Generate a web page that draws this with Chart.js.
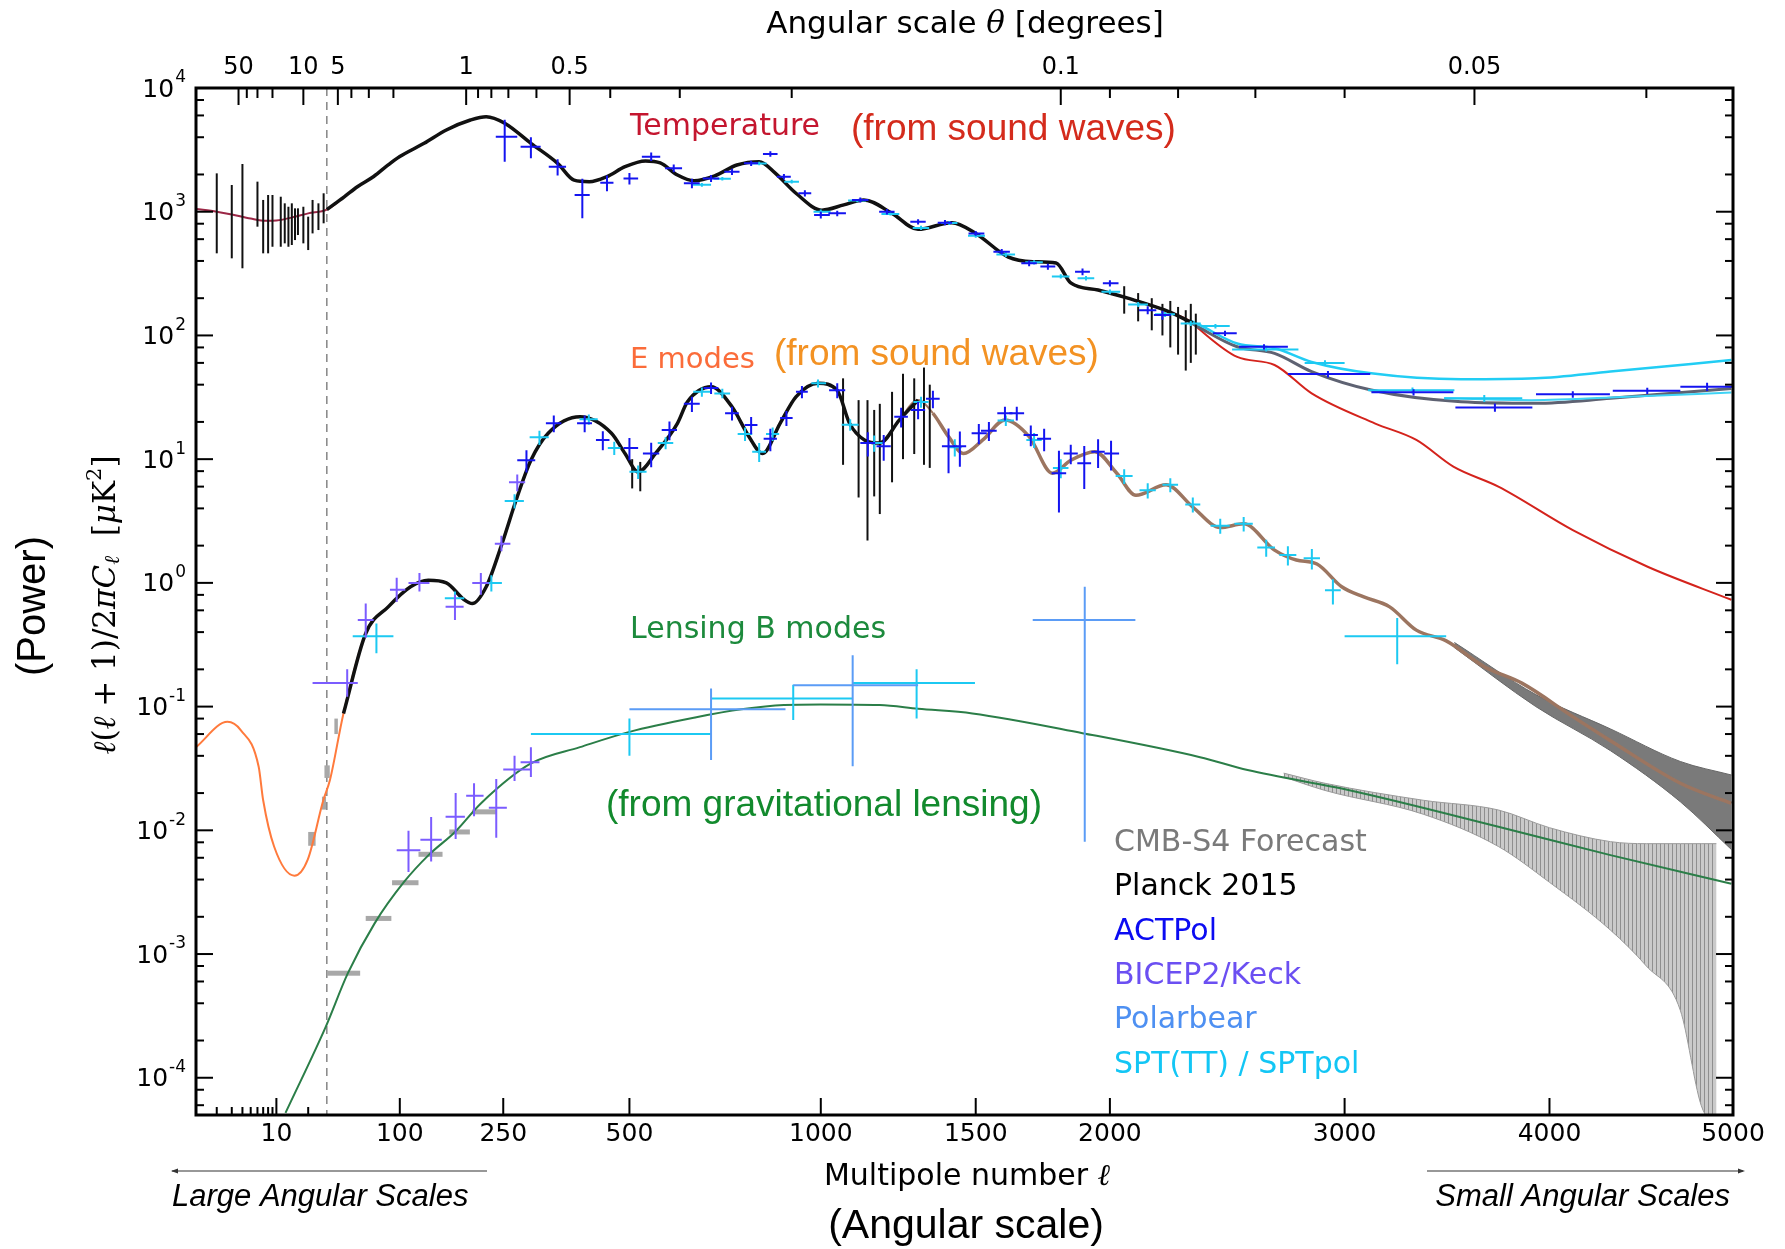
<!DOCTYPE html>
<html lang="en">
<head>
<meta charset="UTF-8">
<title>CMB power spectra</title>
<script src="https://cdn.jsdelivr.net/npm/chart.js"></script>
<style>
  html, body { margin: 0; padding: 0; background: #fff; }
  canvas { display: block; }
</style>
</head>
<body>
<canvas id="cmb" width="1785" height="1249"></canvas>
<script>
// ---- values: [ell, D_ell (uK^2)] ----
const ttTheory = [[1.17,1052],[2,1000],[3,950],[5,880],[7.6,845],[10,850],[15,910],[20,970],[30,1040],[40,1320],[50,1600],[65,1925],[83,2400],[100,2790],[124,3570],[151,4580],[187,5510],[215,5860],[252,5190],[291,3570],[337,2460],[369,1800],[401,1750],[442,1925],[488,2310],[530,2570],[559,2480],[595,1980],[632,1780],[681,1950],[738,2385],[800,2540],[848,2050],[914,1410],[1003,1030],[1062,1135],[1119,1245],[1205,970],[1290,720],[1409,815],[1500,668],[1607,432],[1695,395],[1782,385],[1839,266],[1950,233],[2063,200],[2200,160],[2308,126],[2337,111],[2492,67],[2658,57.7],[2834,34],[3132,19.4],[3318,14.3],[3495,8.7],[3723,6.0],[4115,2.67],[4507,1.35],[4990,0.73]];
const eeTheory = [[1.17,0.047],[2.67,0.0753],[3.82,0.0645],[6.2,0.0326],[7.0,0.0175],[9.4,0.0074],[14.8,0.0043],[19.8,0.0058],[27.8,0.0175],[31.6,0.0255],[39.5,0.088],[57,0.39],[82.6,0.64],[110,0.93],[128.7,1.05],[151,1.0],[177,0.73],[190,0.68],[215,0.93],[245,1.96],[270,4.97],[291,9.8],[320,16.2],[381,22],[453,16.2],[488,11.1],[516,7.9],[550,11.2],[595,19.5],[617,29.1],[672,38.5],[725,26.5],[771,15.2],[810,11.1],[863,19.5],[914,31.9],[991,41],[1044,36],[1078,19.5],[1121,14.3],[1167,13.5],[1228,20.7],[1290,30.1],[1341,23.5],[1397,15.2],[1453,11.1],[1523,14.3],[1597,20.7],[1682,15.2],[1768,7.7],[1839,9.8],[1936,11.5],[2024,7.7],[2092,5.1],[2204,6.2],[2308,4.1],[2420,2.8],[2520,3.0],[2658,1.84],[2760,1.53],[2860,1.42],[2985,0.93],[3082,0.77],[3196,0.64],[3318,0.415],[3460,0.34],[3650,0.21],[3850,0.154],[4115,0.083],[4308,0.053],[4690,0.024],[4990,0.0165]];
const bbTheory = [[12.2,5.2e-5],[29.3,2.58e-4],[42.4,6.97e-4],[66,1.77e-3],[104,3.84e-3],[129,6.3e-3],[163,9.7e-3],[205,0.0165],[291,0.0347],[381,0.047],[500,0.0625],[637,0.082],[750,0.095],[875,0.103],[1000,0.104],[1167,0.103],[1290,0.096],[1487,0.088],[1886,0.061],[2337,0.039],[2537,0.0307],[3020,0.0211],[3723,0.0107],[4308,0.0063],[4990,0.0037]];
const s4TTline = [[2300,127],[2337,115],[2492,81],[2658,71.6],[2834,51],[3114,36.2],[3533,29.1],[3924,28.3],[4308,31],[4990,37.3]];
const sptTTline = [[2300,131],[2337,121],[2492,86],[2658,78.7],[2834,61],[3114,49.4],[3533,44.2],[3924,45],[4308,51],[4990,63.2]];
const sptTTlow = [[3450,31],[3900,30],[4400,32],[4990,34.5]];

// CMB-S4 forecast bands: [ell, upper, lower]
const s4EEband = [[3500,0.33,0.30],[3924,0.125,0.10],[4308,0.066,0.044],[4690,0.036,0.017],[4990,0.028,0.007]];
const s4BBband = [[2700,0.029,0.027],[2900,0.024,0.021],[3350,0.0175,0.0135],[3723,0.0146,0.0074],[4000,0.0105,0.0038],[4308,0.0081,0.00156],[4500,0.0078,0.0008],[4690,0.0078,0.00035],[4810,0.0078,0.00006],[4900,0.0078,0.00004]];
// CMB-S4 forecast bins at low ell
const s4BBbins = [[30,52,7.0e-4],[57,87,1.94e-3],[88,118,3.77e-3],[118,146,6.4e-3],[155,186,9.7e-3],[190,235,0.0141]];   // [ell lo, ell hi, D]
const s4EEbins = [[20,23.5,0.0075,0.0097],[27,29.5,0.0147,0.0187],[28.5,31.5,0.0265,0.0335],[34,36,0.060,0.080]]; // [ell lo, ell hi, D lo, D hi]

// Planck 2015 error bars: [ell, D lo, D hi]
const planckLowTT = [[2,461,2042],[3,420,1644],[4,349,2431],[6,757,1750],[7,461,1245],[8,461,1365],[9,521,1365],[11,521,1322],[12,555,1169],[13,521,1097],[14,538,1169],[15,590,1065],[16,648,1065],[18,555,1097],[20,490,912],[22,668,1245],[25,711,1169],[28,806,1409]];
const planckHighTT = [[2050,150,250],[2100,130,220],[2150,110,200],[2190,100,180],[2220,80,190],[2250,70,170],[2280,52,160],[2300,60,180],[2320,70,150]];
const planckNoisyEE = [[505,5.8,10],[520,5.5,9.5],[1060,9,45],[1104,4.9,30],[1130,2.2,30],[1150,5,25],[1167,3.6,28],[1205,6.5,35],[1240,10,49],[1277,11,45],[1310,9,55],[1330,8.5,40]];

// crosses: [ell, D, +-ell, +-D]
const actTT = [[252,4040,18,1500],[291,3350,16,650],[337,2310,16,350],[386,1365,16,480],[442,1715,16,250],[500,1860,16,200],[541,2785,18,220],[587,2245,18,160],[627,1697,18,150],[672,1860,20,120],[725,2100,20,120],[777,2460,20,120],[833,2926,22,150],[875,1920,22,100],[944,1410,22,80],[1000,940,24,60],[1044,970,24,50],[1109,1245,24,60],[1189,1000,24,50],[1290,830,26,40],[1384,816,26,40],[1500,668,28,30],[1586,475,28,25],[1682,383,28,20],[1751,360,28,20],[1886,327,30,20],[2000,264,30,15],[2135,160,32,12],[2190,146,32,12],[2440,104,50,5],[2610,81,110,4],[2915,48.7,195,3],[3305,34.7,190,2],[3705,26.2,200,2],[4115,33.4,190,2],[4505,35.7,185,2],[4845,38.5,155,3]];
const actEE = [[284,9.8,14,2],[330,19.5,14,3],[391,19.5,16,3],[432,14.3,16,2.5],[500,12.3,16,2.5],[541,11.1,16,2.5],[578,17.2,16,3],[627,28,18,4],[672,37.6,18,4],[725,23.5,18,3],[777,18.9,18,3],[833,14.6,20,3],[883,21.5,20,3],[934,35,20,4],[1044,36,22,5],[1131,13.5,22,3],[1179,12.7,22,3],[1234,22,22,4],[1290,25,24,4],[1341,30.8,24,5],[1397,12.7,24,5],[1439,12.7,24,4],[1510,16.2,26,3],[1543,17,26,3],[1597,23.5,26,3],[1638,23.5,26,3],[1688,15.7,26,3],[1737,14.6,26,3],[1793,7.7,28,4],[1839,11.1,28,2],[1893,9.25,28,3.5],[1950,11.5,28,3],[2004,11.1,28,3]];
const sptTT = [[650,1650,22,60],[700,1850,22,60],[800,2450,22,80],[900,1750,24,60],[1000,1000,26,40],[1100,1230,26,40],[1200,960,28,30],[1300,740,28,30],[1400,810,30,30],[1500,640,30,25],[1600,450,32,20],[1700,390,32,15],[1800,300,34,12],[1900,290,34,12],[2000,225,36,10],[2100,178,36,8],[2200,148,38,7],[2300,125,40,6],[2400,119,60,5],[2620,77,150,3],[2900,60,100,3],[3300,36,200,2],[3650,31,200,2]];
const sptEE = [[68,0.37,22,0.1],[163,0.75,14,0.1],[225,1.0,22,0.15],[266,4.6,14,0.6],[305,15,16,2],[400,21,20,2],[460,12.3,16,1.5],[516,7.9,16,1],[570,13.5,16,1.5],[650,35,20,3],[700,34,20,3],[760,16,20,2],[800,11.5,20,2],[840,16,20,2],[990,41,24,3],[1080,19,24,2],[1150,13.5,26,2],[1300,29,26,3],[1420,12.5,26,2],[1600,20.5,28,2],[1700,14.3,28,2],[1800,8.5,30,1.5],[2050,7.3,30,1],[2135,5.6,30,0.8],[2220,6.2,30,0.8],[2308,4.3,30,0.6],[2420,2.9,40,0.4],[2520,3.0,40,0.4],[2620,1.93,40,0.3],[2720,1.68,40,0.3],[2835,1.58,40,0.3],[2940,0.87,40,0.2],[3230,0.37,230,0.15]];
// crosses with explicit ranges: [ell, D, ell lo, ell hi, D lo, D hi]
const bicepEE = [[42,0.155,22,50,0.12,0.2],[57,0.50,50,65,0.36,0.68],[95,0.88,85,105,0.7,1.1],[119,1.0,108,130,0.85,1.2],[163,0.64,150,176,0.5,0.8],[205,1.0,190,220,0.8,1.2],[246,2.07,232,260,1.8,2.4],[270,6.5,258,282,5.5,7.5]];
const bicepBB = [[108,6.9e-3,95,120,4.6e-3,9.9e-3],[132,8.4e-3,120,145,5.6e-3,0.0128],[164,0.0129,150,178,0.0085,0.02],[193,0.019,180,210,0.013,0.024],[235,0.0152,220,255,0.0087,0.026],[266,0.031,250,290,0.025,0.04],[291,0.0355,275,305,0.027,0.047]];
const polarbearBB = [[672,0.095,500,880,0.037,0.14],[1087,0.149,905,1290,0.033,0.26],[1895,0.5,1695,2090,0.0081,0.93]];
const sptBB = [[500,0.060,291,672,0.040,0.080],[905,0.116,672,1087,0.078,0.15],[1285,0.155,1087,1497,0.08,0.2]];

// axis ticks
const yExponents = [-4,-3,-2,-1,0,1,2,3,4];
const ellTicks = [10,100,250,500,1000,1500,2000,3000,4000,5000];
const ellMinor = [2,3,4,5,6,7,8,9,20];
const thetaTicks = [50,10,5,1,0.5,0.1,0.05];
const thetaMinor = [40,30,20,4,3,2,0.9,0.8,0.7,0.6,0.4,0.3,0.2,0.09,0.08,0.07,0.06,0.04];

// ---- multipole axis: log-like at low ell, stretched at high ell ----
const ELL_KNOTS = [[1.17,0],[2,0.0135],[10,0.0523],[30,0.0851],[100,0.1326],[250,0.1999],[500,0.2820],[1000,0.4065],[1500,0.5073],[2000,0.5946],[3000,0.7473],[4000,0.8806],[5000,1]];
function ellToUnit(v) {
  const k = ELL_KNOTS;
  let i = 0;
  while (i < k.length - 2 && v > k[i + 1][0]) i++;
  const a = k[i], b = k[i + 1];
  const t = (Math.log(v) - Math.log(a[0])) / (Math.log(b[0]) - Math.log(a[0]));
  return a[1] + t * (b[1] - a[1]);
}
function unitToEll(u) {
  const k = ELL_KNOTS;
  let i = 0;
  while (i < k.length - 2 && u > k[i + 1][1]) i++;
  const a = k[i], b = k[i + 1];
  const t = (u - a[1]) / (b[1] - a[1]);
  return Math.exp(Math.log(a[0]) + t * (Math.log(b[0]) - Math.log(a[0])));
}
class MultipoleScale extends Chart.LinearScale {
  getPixelForValue(v) {
    if (v === null || v === undefined || isNaN(v) || v <= 0) return NaN;
    const u0 = ellToUnit(this.min), u1 = ellToUnit(this.max);
    return this.getPixelForDecimal((ellToUnit(v) - u0) / (u1 - u0));
  }
  getValueForPixel(p) {
    const u0 = ellToUnit(this.min), u1 = ellToUnit(this.max);
    return unitToEll(u0 + this.getDecimalForPixel(p) * (u1 - u0));
  }
  buildTicks() {
    return ellTicks.map(v => ({ value: v }));
  }
}
MultipoleScale.id = 'multipole';
MultipoleScale.defaults = {};
Chart.register(MultipoleScale);

// ---- helpers ----
const canvas = document.getElementById('cmb');
const ctx0 = canvas.getContext('2d');

function xy(rows, col) { return rows.map(r => ({ x: r[0], y: r[col || 1] })); }
function sym(rows) { return rows.map(r => ({ x: r[0], y: r[1], xMin: r[0] - r[2], xMax: r[0] + r[2], yMin: r[1] - r[3], yMax: r[1] + r[3] })); }
function asym(rows) { return rows.map(r => ({ x: r[0], y: r[1], xMin: r[2], xMax: r[3], yMin: r[4], yMax: r[5] })); }
function vbars(rows) { return rows.map(r => ({ x: r[0], y: r[1], yMin: r[1], yMax: r[2] })); }
function hbars(rows) { return rows.map(r => ({ x: r[0], y: r[2], xMin: r[0], xMax: r[1] })); }
function boxes(rows) { return rows.map(r => ({ x: r[0], y: r[2], xMin: r[0], xMax: r[1], yMin: r[2], yMax: r[3] })); }

function hatch() {
  const c = document.createElement('canvas');
  c.width = 4; c.height = 4;
  const g = c.getContext('2d');
  g.fillStyle = '#cacaca'; g.fillRect(0, 0, 4, 4);
  g.fillStyle = '#8f8f8f'; g.fillRect(0, 0, 1, 4);
  return ctx0.createPattern(c, 'repeat');
}

function curve(data, color, width, order, extra) {
  return Object.assign({ data, borderColor: color, borderWidth: width, pointRadius: 0, fill: false,
    cubicInterpolationMode: 'monotone', order }, extra || {});
}
function marks(data, color, kind, width) {
  return { data, marks: kind, borderColor: color, backgroundColor: color, markWidth: width || 2,
    showLine: false, pointRadius: 0, pointHoverRadius: 0, order: 1 };
}

function drawMarks(chart, kinds) {
  const { ctx, chartArea: a, scales: { x, y } } = chart;
  ctx.save();
  ctx.beginPath(); ctx.rect(a.left, a.top, a.right - a.left, a.bottom - a.top); ctx.clip();
  chart.data.datasets.forEach(ds => {
    if (!kinds.includes(ds.marks)) return;
    ctx.strokeStyle = ds.borderColor; ctx.fillStyle = ds.backgroundColor; ctx.lineWidth = ds.markWidth;
    ds.data.forEach(p => {
      const xc = x.getPixelForValue(p.x), yc = y.getPixelForValue(p.y);
      if (ds.marks === 'box') {
        const x0 = x.getPixelForValue(p.xMin), x1 = x.getPixelForValue(p.xMax);
        const y0 = y.getPixelForValue(p.yMax), y1 = y.getPixelForValue(p.yMin);
        ctx.fillRect(x0, y0, x1 - x0, y1 - y0);
      } else if (ds.marks === 'hbar') {
        const x0 = x.getPixelForValue(p.xMin), x1 = x.getPixelForValue(p.xMax);
        ctx.fillRect(x0, yc - 2.5, x1 - x0, 5);
      } else {
        ctx.beginPath();
        if (ds.marks === 'cross') {
          ctx.moveTo(x.getPixelForValue(p.xMin), yc);
          ctx.lineTo(x.getPixelForValue(p.xMax), yc);
        }
        ctx.moveTo(xc, y.getPixelForValue(p.yMin));
        ctx.lineTo(xc, y.getPixelForValue(p.yMax));
        ctx.stroke();
      }
    });
  });
  ctx.restore();
}

function rich(ctx, parts, x, y, align) {
  let w = 0;
  parts.forEach(p => { ctx.font = p[1]; w += ctx.measureText(p[0]).width; });
  let cx = align === 'center' ? x - w / 2 : align === 'right' ? x - w : x;
  ctx.textAlign = 'left';
  ctx.textBaseline = 'middle';
  parts.forEach(p => {
    ctx.font = p[1];
    ctx.fillText(p[0], cx, y + (p[2] || 0));
    cx += ctx.measureText(p[0]).width;
  });
}
function text(ctx, s, x, y, font, color, align) {
  ctx.font = font; ctx.fillStyle = color;
  ctx.textAlign = align || 'left'; ctx.textBaseline = 'middle';
  ctx.fillText(s, x, y);
}

const SANS = '"DejaVu Sans"';
const HELV = '"Liberation Sans", Arial';

const marksPlugin = {
  id: 'marks',
  beforeDatasetsDraw(chart) {
    const { ctx, chartArea: a, scales: { x } } = chart;
    // dashed line at ell = 30
    const xd = x.getPixelForValue(30);
    ctx.save();
    ctx.strokeStyle = '#8c8c8c'; ctx.lineWidth = 1.6; ctx.setLineDash([8, 6]);
    ctx.beginPath(); ctx.moveTo(xd, a.top); ctx.lineTo(xd, a.bottom); ctx.stroke();
    ctx.restore();
    drawMarks(chart, ['box', 'hbar']);
  },
  afterDatasetsDraw(chart) {
    drawMarks(chart, ['vbar', 'cross']);
  },
  afterDraw(chart) {
    const { ctx, chartArea: a, scales: { x, y, xTop } } = chart;
    ctx.save();
    // frame
    ctx.strokeStyle = '#000'; ctx.lineWidth = 3;
    ctx.strokeRect(a.left, a.top, a.right - a.left, a.bottom - a.top);
    // ticks, all pointing inwards
    ctx.lineWidth = 2;
    const tick = (x0, y0, x1, y1) => { ctx.beginPath(); ctx.moveTo(x0, y0); ctx.lineTo(x1, y1); ctx.stroke(); };
    yExponents.forEach(e => {
      const py = y.getPixelForValue(Math.pow(10, e));
      tick(a.left, py, a.left + 17, py); tick(a.right, py, a.right - 17, py);
      [2, 4, 6, 8].forEach(m => {
        const v = m * Math.pow(10, e - 1);
        if (v < 5e-5 || v > 1e4) return;
        const q = y.getPixelForValue(v);
        tick(a.left, q, a.left + 8, q); tick(a.right, q, a.right - 8, q);
      });
    });
    ellTicks.forEach(v => { const px = x.getPixelForValue(v); tick(px, a.bottom, px, a.bottom - 17); });
    ellMinor.forEach(v => { const px = x.getPixelForValue(v); tick(px, a.bottom, px, a.bottom - 8); });
    thetaTicks.forEach(t => { const px = xTop.getPixelForValue(180 / t); tick(px, a.top, px, a.top + 17); });
    thetaMinor.forEach(t => { const px = xTop.getPixelForValue(180 / t); tick(px, a.top, px, a.top + 10); });

    // tick labels
    ctx.fillStyle = '#000';
    yExponents.forEach(e => {
      const py = y.getPixelForValue(Math.pow(10, e));
      const ex = e < 0 ? '-' + (-e) : String(e);
      ctx.font = '17px ' + SANS;
      const ew = ctx.measureText(ex).width;
      text(ctx, ex, 186, py - 10, '17px ' + SANS, '#000', 'right');
      text(ctx, '10', 185 - ew, py + 2, '25px ' + SANS, '#000', 'right');
    });
    ellTicks.forEach(v => text(ctx, String(v), x.getPixelForValue(v), 1134, '25px ' + SANS, '#000', 'center'));
    thetaTicks.forEach(t => text(ctx, String(t), xTop.getPixelForValue(180 / t), 68, '24px ' + SANS, '#000', 'center'));

    // axis titles
    ctx.fillStyle = '#000';
    rich(ctx, [['Angular scale ', '31px ' + SANS], ['θ', 'italic 31px "DejaVu Serif"'], [' [degrees]', '31px ' + SANS]], 965, 25, 'center');
    rich(ctx, [['Multipole number ', '30px ' + SANS], ['ℓ', 'italic 30px "DejaVu Serif"']], 967, 1177, 'center');
    text(ctx, '(Angular scale)', 966, 1227, '41px ' + HELV, '#000', 'center');

    ctx.save();
    ctx.translate(107, 605); ctx.rotate(-Math.PI / 2);
    ctx.fillStyle = '#000';
    const I = 'italic 31px "DejaVu Serif"', R = '31px "DejaVu Serif"';
    rich(ctx, [['ℓ', I], ['(', R], ['ℓ', I], [' + 1)/2', R], ['π', I], ['C', I], ['ℓ', 'italic 21px "DejaVu Serif"', 7],
      ['  [', R], ['μ', I], ['K', R], ['2', '21px "DejaVu Serif"', -11], [']', R]], 0, 0, 'center');
    ctx.restore();
    ctx.save();
    ctx.translate(34, 606); ctx.rotate(-Math.PI / 2);
    text(ctx, '(Power)', 0, 0, '40px ' + HELV, '#000', 'center');
    ctx.restore();

    // scale arrows
    ctx.strokeStyle = '#333'; ctx.fillStyle = '#333'; ctx.lineWidth = 1.2;
    tick(172, 1171, 487, 1171);
    ctx.beginPath(); ctx.moveTo(171, 1171); ctx.lineTo(178, 1168.5); ctx.lineTo(178, 1173.5); ctx.fill();
    tick(1427, 1171, 1743, 1171);
    ctx.beginPath(); ctx.moveTo(1745, 1171); ctx.lineTo(1738, 1168.5); ctx.lineTo(1738, 1173.5); ctx.fill();
    text(ctx, 'Large Angular Scales', 172, 1197, 'italic 31px ' + HELV, '#000', 'left');
    text(ctx, 'Small Angular Scales', 1730, 1197, 'italic 31px ' + HELV, '#000', 'right');

    // annotations
    text(ctx, 'Temperature', 630, 127, '30px ' + SANS, '#c4162f', 'left');
    text(ctx, '(from sound waves)', 851, 130, '37px ' + HELV, '#d42b1c', 'left');
    text(ctx, 'E modes', 630, 360, '29px ' + SANS, '#fb6c3a', 'left');
    text(ctx, '(from sound waves)', 774, 355, '37px ' + HELV, '#f39223', 'left');
    text(ctx, 'Lensing B modes', 630, 630, '30px ' + SANS, '#1c8a3c', 'left');
    text(ctx, '(from gravitational lensing)', 606, 806, '37px ' + HELV, '#128a2d', 'left');

    // legend
    const legend = [['CMB-S4 Forecast', '#7a7a7a'], ['Planck 2015', '#000000'], ['ACTPol', '#0b0bf2'],
      ['BICEP2/Keck', '#6b4ff2'], ['Polarbear', '#4e90f2'], ['SPT(TT) / SPTpol', '#13c6f5']];
    legend.forEach((l, i) => text(ctx, l[0], 1114, 843 + i * 44.4, '30px ' + SANS, l[1], 'left'));
    ctx.restore();
  }
};

const RED = '#d4231c';
const datasets = [
  // forecast bands
  curve(xy(s4BBband, 1), '#9a9a9a', 1, 20),
  curve(xy(s4BBband, 2), '#9a9a9a', 1, 20, { fill: '-1', backgroundColor: hatch() }),
  curve(xy(s4EEband, 1), '#666', 1, 20),
  curve(xy(s4EEband, 2), '#666', 1, 20, { fill: '-1', backgroundColor: 'rgba(108,108,108,0.9)' }),
  // theory
  curve(xy(ttTheory), RED, 2, 12, { segment: { borderColor: c => c.p0.parsed.x < 30 ? '#9b2746' : RED } }),
  curve(xy(eeTheory), '#a07a62', 2, 12, { segment: {
    borderColor: c => c.p0.parsed.x < 45 ? '#ff7a3c' : '#9c7560',
    borderWidth: c => c.p0.parsed.x > 1300 ? 3.5 : 2 } }),
  curve(xy(bbTheory), '#2b7e48', 2, 9),
  // forecast TT and SPT TT curves at high ell
  curve(xy(s4TTline), '#5e6272', 3, 11),
  curve(xy(sptTTline), '#22cdf4', 2.5, 10),
  curve(xy(sptTTlow), '#3fd3f5', 2, 10),
  // Planck 2015 data tracing the spectra
  curve(xy(ttTheory.filter(r => r[0] >= 30 && r[0] <= 2310)), '#111', 3.5, 5),
  curve(xy(eeTheory.filter(r => r[0] >= 39 && r[0] <= 1330)), '#111', 3.5, 5),
  // forecast bins at low ell
  marks(hbars(s4BBbins), '#a8a8a8', 'hbar'),
  marks(boxes(s4EEbins), '#a8a8a8', 'box'),
  // Planck error bars
  marks(vbars(planckLowTT), '#111', 'vbar', 2),
  marks(vbars(planckHighTT), '#111', 'vbar', 2),
  marks(vbars(planckNoisyEE), '#111', 'vbar', 2),
  // experiments
  marks(sym(sptTT), '#1cc9f2', 'cross', 2),
  marks(sym(sptEE), '#1cc9f2', 'cross', 2),
  marks(asym(sptBB), '#1cc9f2', 'cross', 2),
  marks(asym(polarbearBB), '#5b9cf6', 'cross', 2),
  marks(asym(bicepEE), '#7b5cff', 'cross', 2),
  marks(asym(bicepBB), '#7b5cff', 'cross', 2),
  marks(sym(actTT), '#1414f0', 'cross', 2),
  marks(sym(actEE), '#1414f0', 'cross', 2)
];

new Chart(canvas, {
  type: 'line',
  data: { datasets },
  options: {
    responsive: false,
    animation: false,
    devicePixelRatio: 1,
    layout: { padding: { left: 0, right: 52, top: 0, bottom: 0 } },
    plugins: { legend: { display: false }, tooltip: { enabled: false } },
    scales: {
      x: {
        type: 'multipole', position: 'bottom', min: 1.17, max: 5000,
        grid: { display: false, drawTicks: false }, border: { display: false },
        ticks: { display: false },
        afterFit: s => { s.height = 134; }
      },
      xTop: {
        type: 'multipole', position: 'top', min: 1.17, max: 5000,
        grid: { display: false, drawTicks: false }, border: { display: false },
        ticks: { display: false },
        afterFit: s => { s.height = 88; }
      },
      y: {
        type: 'logarithmic', position: 'left', min: 5e-5, max: 1e4,
        grid: { display: false, drawTicks: false }, border: { display: false },
        ticks: { display: false },
        afterFit: s => { s.width = 196; }
      }
    }
  },
  plugins: [marksPlugin]
});
</script>
</body>
</html>
